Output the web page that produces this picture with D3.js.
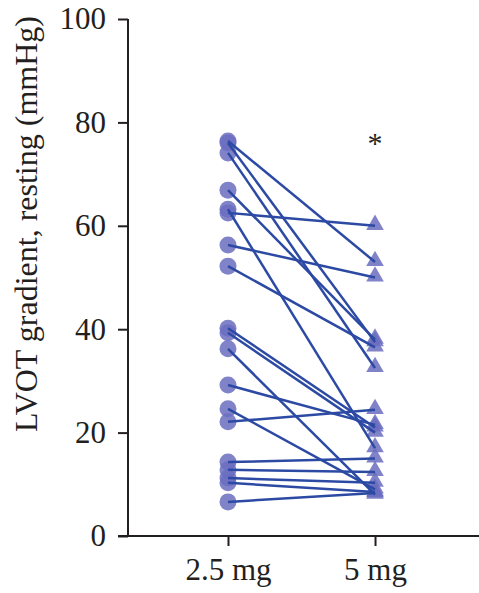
<!DOCTYPE html>
<html>
<head>
<meta charset="utf-8">
<script src="https://cdn.jsdelivr.net/npm/d3@7"></script>
<style>
  body { margin: 0; background: #fff; }
  text { font-family: "Liberation Serif", "DejaVu Serif", serif; fill: #231f20; }
</style>
</head>
<body>
<svg id="chart"></svg>
<script>
// doses on the x axis
var doses = ["2.5 mg", "5 mg"];
// resting LVOT gradient per patient (mmHg), paired by index
var gradient25 = [76.4, 76.0, 74.1, 66.9, 63.2, 62.5, 56.3, 52.2, 40.2, 39.3, 36.2, 29.2, 24.6, 22.1, 14.3, 12.8, 11.2, 10.3, 6.6];
var gradient5  = [53.0, 37.5, 32.5, 38.0, 17.0, 60.0, 50.0, 36.5, 21.0, 20.0, 8.0, 21.5, 9.0, 24.4, 15.0, 12.4, 10.3, 8.5, 8.3];
var yTicks = [0, 20, 40, 60, 80, 100];

var width = 479, height = 593;
var margin = {top: 19, left: 128, bottom: 57};

var svg = d3.select('#chart')
    .attr('width', width)
    .attr('height', height);

var yScale = d3.scaleLinear().domain([0, 100]).range([height - margin.bottom, margin.top]);
var xScale = d3.scalePoint().domain(doses).range([margin.left, 475]).padding(0.68);

var pairs = gradient25.map(function(v, i) { return {a: v, b: gradient5[i]}; });

var markFill = "#6b6dbf";
var lineColor = "#2c4aa3";

// markers first, lines drawn over them
svg.selectAll('.dot')
    .data(gradient25)
    .enter().append('circle')
    .attr('class', 'dot')
    .attr('cx', xScale(doses[0]))
    .attr('cy', function(d) { return yScale(d); })
    .attr('r', 8.5)
    .attr('fill', markFill)
    .attr('fill-opacity', 0.85);

var tri = d3.symbol().type(d3.symbolTriangle).size(135);
svg.selectAll('.tri')
    .data(gradient5)
    .enter().append('path')
    .attr('class', 'tri')
    .attr('d', tri)
    .attr('transform', function(d) { return 'translate(' + xScale(doses[1]) + ',' + (yScale(d) - 1) + ')'; })
    .attr('fill', markFill)
    .attr('fill-opacity', 0.85);

svg.selectAll('.pair')
    .data(pairs)
    .enter().append('line')
    .attr('class', 'pair')
    .attr('x1', xScale(doses[0]))
    .attr('y1', function(d) { return yScale(d.a); })
    .attr('x2', xScale(doses[1]))
    .attr('y2', function(d) { return yScale(d.b); })
    .attr('stroke', lineColor)
    .attr('stroke-width', 2.5);

// y axis
var gy = svg.append('g')
    .attr('transform', 'translate(' + margin.left + ',0)')
    .call(d3.axisLeft(yScale).tickValues(yTicks).tickSize(10).tickPadding(12));

// x axis
var gx = svg.append('g')
    .attr('transform', 'translate(0,' + yScale(0) + ')')
    .call(d3.axisBottom(xScale).tickSize(10).tickPadding(12));

[gx, gy].forEach(function(g) {
    g.selectAll('path, line').attr('stroke', '#231f20').attr('stroke-width', 2);
    g.selectAll('text').style('font-family', '"Liberation Serif", serif').style('font-size', '31px').attr('fill', '#231f20');
});
gy.select('.domain').attr('d', 'M0,' + yScale(100) + 'V' + yScale(0));
gx.select('.domain').attr('d', 'M118,0H' + width);

// y label
svg.append('text')
    .attr('transform', 'translate(' + 37 + ',' + 224 + ') rotate(-90)')
    .attr('text-anchor', 'middle')
    .style('font-size', '32px')
    .text('LVOT gradient, resting (mmHg)');

// significance mark
svg.append('text')
    .attr('x', xScale(doses[1]))
    .attr('y', yScale(74))
    .attr('text-anchor', 'middle')
    .style('font-size', '30px')
    .text('*');
</script>
</body>
</html>
